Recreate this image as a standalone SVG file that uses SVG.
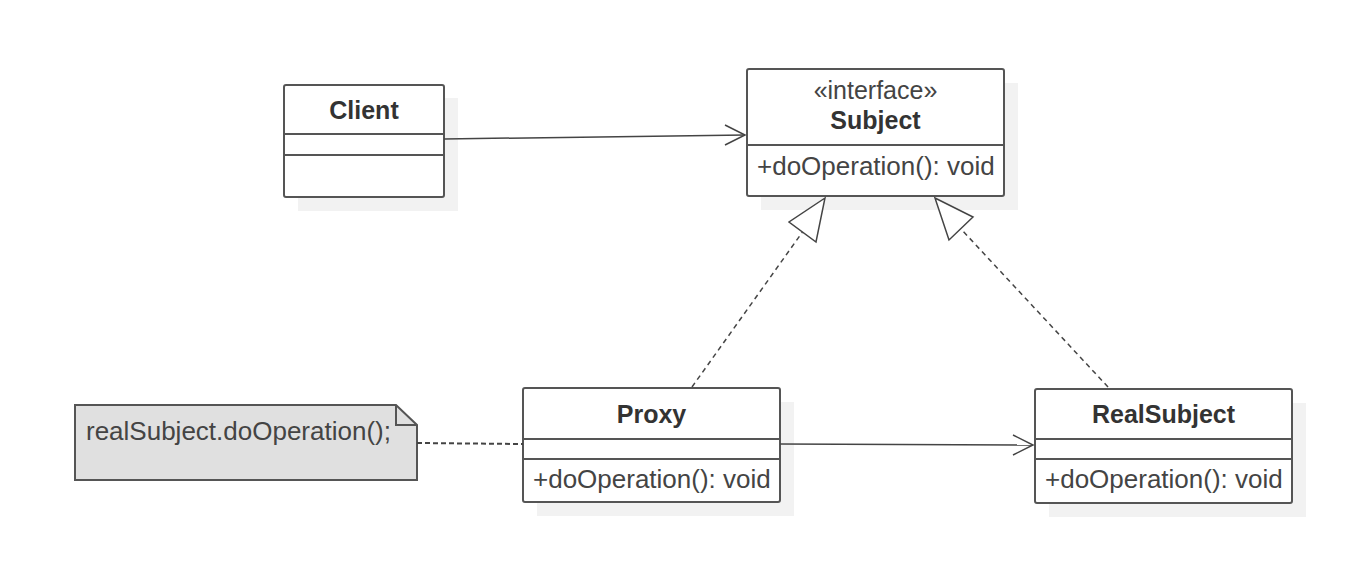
<svg xmlns="http://www.w3.org/2000/svg" width="1366" height="566" viewBox="0 0 1366 566">
<defs>
<style>
.bg{fill:#ffffff}
.shadow{fill:#f2f2f2}
.box{fill:#ffffff;stroke:#555555;stroke-width:2}
.div{stroke:#555555;stroke-width:2;fill:none}
.name{font-family:"Liberation Sans",Arial,sans-serif;font-size:25px;font-weight:bold;fill:#333333;text-anchor:middle}
.stereo{font-family:"Liberation Sans",Arial,sans-serif;font-size:25px;fill:#444444;text-anchor:middle}
.op{font-family:"Liberation Sans",Arial,sans-serif;font-size:26px;fill:#444444}
.edge{stroke:#444444;stroke-width:1.5;fill:none}
.dash{stroke:#444444;stroke-width:1.5;fill:none;stroke-dasharray:5 4}
.ndash{stroke:#444444;stroke-width:2;fill:none;stroke-dasharray:5 3}
.head{stroke:#444444;stroke-width:1.5;fill:none}
.tri{stroke:#444444;stroke-width:1.5;fill:#ffffff}
.note{fill:#e0e0e0;stroke:#555555;stroke-width:2}
</style>
</defs>
<rect class="bg" x="0" y="0" width="1366" height="566"/>

<g id="Client">
<rect class="shadow" x="298" y="98" width="160" height="113"/>
<rect class="box" x="284" y="85" width="160" height="112" rx="2"/>
<line class="div" x1="284" y1="134" x2="444" y2="134"/>
<line class="div" x1="284" y1="155" x2="444" y2="155"/>
<text class="name" x="364" y="119">Client</text>
</g>

<g id="Subject">
<rect class="shadow" x="761" y="83" width="257" height="127"/>
<rect class="box" x="747" y="69" width="257" height="127" rx="2"/>
<line class="div" x1="747" y1="145" x2="1004" y2="145"/>
<text class="stereo" x="875.5" y="99">«interface»</text>
<text class="name" x="875.5" y="129">Subject</text>
<text class="op" x="757" y="175">+doOperation(): void</text>
</g>

<g id="Proxy">
<rect class="shadow" x="537" y="402" width="257" height="114"/>
<rect class="box" x="523" y="388" width="257" height="114" rx="2"/>
<line class="div" x1="523" y1="439" x2="780" y2="439"/>
<line class="div" x1="523" y1="459" x2="780" y2="459"/>
<text class="name" x="651.5" y="423">Proxy</text>
<text class="op" x="533" y="488">+doOperation(): void</text>
</g>

<g id="RealSubject">
<rect class="shadow" x="1049" y="403" width="257" height="114"/>
<rect class="box" x="1035" y="389" width="257" height="114" rx="2"/>
<line class="div" x1="1035" y1="439" x2="1292" y2="439"/>
<line class="div" x1="1035" y1="459" x2="1292" y2="459"/>
<text class="name" x="1163.5" y="423">RealSubject</text>
<text class="op" x="1045" y="488">+doOperation(): void</text>
</g>

<g id="Note">
<path class="note" d="M75,405 H396 L417,425 V480 H75 Z"/>
<path class="div" d="M396,405 V425 H417"/>
<text class="op" x="86" y="440">realSubject.doOperation();</text>
</g>

<g id="connectors">
<line class="edge" x1="444" y1="139" x2="745" y2="135"/>
<polyline class="head" points="725,125 745,135 725,145"/>
<line class="edge" x1="780" y1="444" x2="1033" y2="445"/>
<polyline class="head" points="1013,435 1033,445 1013,455"/>
<line class="ndash" x1="417" y1="443" x2="523" y2="444"/>
<line class="dash" x1="692" y1="387" x2="802.5" y2="232"/>
<polygon class="tri" points="825,198 789,222 816,242"/>
<line class="dash" x1="1108" y1="387" x2="961" y2="229"/>
<polygon class="tri" points="935,198 973,217 949,240"/>
</g>
</svg>
